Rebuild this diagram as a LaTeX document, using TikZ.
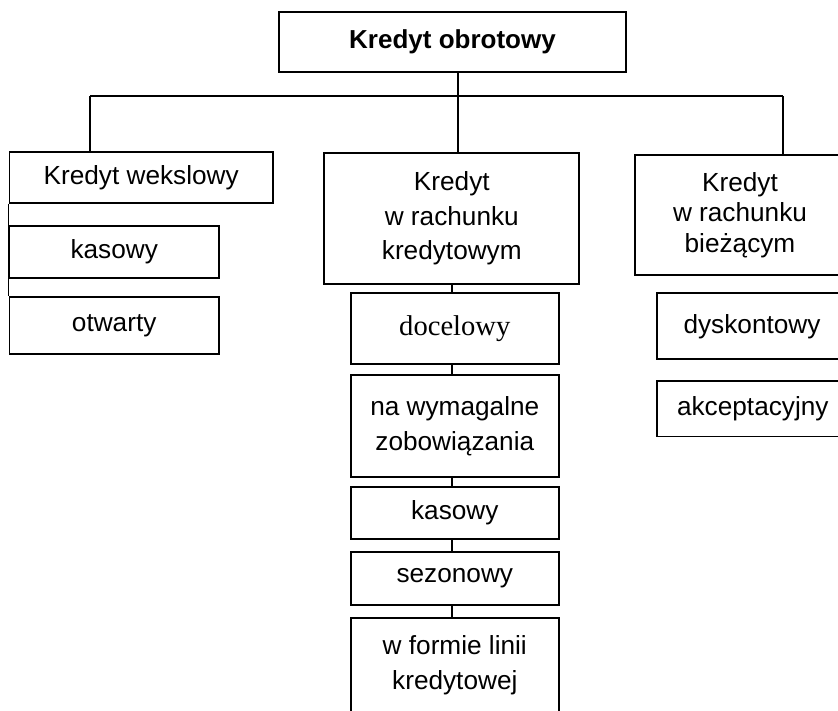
\documentclass[tikz,border=0pt]{standalone}
\usepackage{fontspec}
\setmainfont{Liberation Sans}
\newfontfamily\timesfont{Liberation Serif}
\usepackage{tikz}

\begin{document}
\begin{tikzpicture}[x=1pt, y=-1pt, line width=1.8pt,
    box/.style={draw, rectangle, align=center, inner sep=0pt,
      font=\fontsize{26.2}{34.7}\selectfont},
    link/.style={line width=1.8pt}]
    \useasboundingbox (0,0) rectangle (838,711);

    % Top box
    \node[box, minimum width=346.4pt, minimum height=60pt,
      font=\bfseries\fontsize{26}{34.7}\selectfont] (top) at (452.5,41.7) {Kredyt obrotowy};

    % Left column
    \node[box, minimum width=263.5pt, minimum height=50.7pt] (wek) at (141.2,177.3) {Kredyt wekslowy};
    \node[box, minimum width=209.5pt, minimum height=51.7pt] (wkas) at (114.2,251.8) {kasowy};
    \node[box, minimum width=209.5pt, minimum height=57.3pt] (wotw) at (114.2,325.3) {otwarty};

    % Middle column
    \node[box, minimum width=255pt, minimum height=131.3pt] (rk) at (451.8,218.3) {Kredyt\\w rachunku\\kredytowym};
    \node[box, minimum width=208.3pt, minimum height=71.3pt,
      font=\timesfont\fontsize{28.6}{34.7}\selectfont] (doc) at (454.8,328.3) {docelowy};
    \node[box, minimum width=208.3pt, minimum height=102pt] (wym) at (454.8,426) {na wymagalne\\zobowiązania};
    \node[box, minimum width=208.3pt, minimum height=52.5pt] (kkas) at (454.8,513) {kasowy};
    \node[box, minimum width=208.3pt, minimum height=52.8pt] (sez) at (454.8,578.6) {sezonowy};
    \node[box, minimum width=208.3pt, minimum height=95.3pt] (lin) at (454.8,665.3) {w formie linii\\kredytowej};

    % Right column
    \node[box, minimum width=210pt, minimum height=120pt,
      font=\fontsize{26.2}{30.5}\selectfont] (rb) at (740,215) {Kredyt\\w rachunku\\bieżącym};
    \node[box, minimum width=190pt, minimum height=66pt] (dys) at (752,326.3) {dyskontowy};
    \node[box, minimum width=192pt, minimum height=55.5pt] (akc) at (752.8,408.8) {akceptacyjny};

    % Junctions
    \coordinate (jl) at (90,96.3);
    \coordinate (jm) at (457.7,96.3);
    \coordinate (jr) at (782.7,96.3);

    % Connectors
    \draw[link] (jm |- top.south) -- (jm);
    \draw[link] (jl) -- (jr);
    \draw[link] (jl) -- (jl |- wek.north);
    \draw[link] (jm) -- (jm |- rk.north);
    \draw[link] (jr) -- (jr |- rb.north);
    \draw[link] (wek.south west) -- (wotw.north west);
    \foreach \a/\b in {rk/doc, doc/wym, wym/kkas, kkas/sez, sez/lin}
      \draw[link] (rk.south |- \a.south) -- (rk.south |- \b.north);
\end{tikzpicture}
\end{document}
